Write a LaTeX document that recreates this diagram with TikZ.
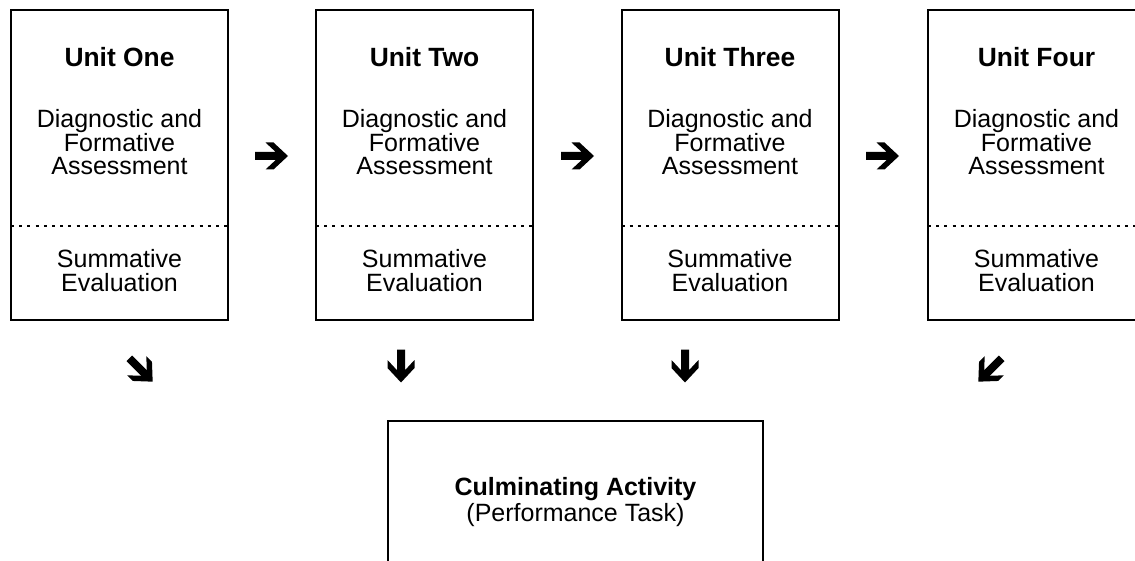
\documentclass[tikz,border=0pt]{standalone}
\usepackage{fontspec}
\setmainfont{Liberation Sans}
\tikzset{
  unitbox/.style={draw, line width=1pt, minimum width=108.5pt, minimum height=155pt, inner sep=0pt},
  unittext/.style={anchor=base, align=center, inner sep=0pt, font=\fontsize{12.5}{11.75}\selectfont},
  unittitle/.style={unittext, font=\fontsize{13.2}{11.75}\selectfont\bfseries},
  divider/.style={line width=1pt, dash pattern=on 1.5pt off 2.6pt},
  fatarrow/.pic={
    \fill (-16.5,4) -- (4.2,4) -- (-6,13.5) -- (2,13.5) -- (16.5,0)
      -- (2,-13.5) -- (-6,-13.5) -- (4.2,-4) -- (-16.5,-4) -- cycle;
  }
}
\begin{document}
\begin{tikzpicture}[x=0.5pt, y=-0.5pt]
\useasboundingbox (0,0) rectangle (1135,561);
\clip (0,0) rectangle (1135,561);

% the four units
\foreach \cx/\nm/\ttl in {119.5/one/Unit One, 424.5/two/Unit Two, 730/three/Unit Three, 1036.5/four/Unit Four} {
  \node[unitbox] (\nm) at (\cx,165) {};
  \draw[divider] (\cx-108.5,226) -- (\cx+108.5,226);
  \node[unittitle] (\nm-title) at (\cx,66.5) {\ttl};
  \node[unittext] (\nm-diag) at (\cx,175) {Diagnostic and\\Formative\\Assessment};
  \node[unittext] (\nm-summ) at (\cx,291.5) {Summative\\Evaluation};
}

% arrows between units
\pic at (271.5,156) {fatarrow};
\pic at (577.5,156) {fatarrow};
\pic at (882.5,156) {fatarrow};

% arrows down to the activity
\pic[rotate=-45] at (141,370) {fatarrow};
\pic[rotate=-90] at (401,366) {fatarrow};
\pic[rotate=-90] at (685,366) {fatarrow};
\pic[rotate=-135] at (990,370) {fatarrow};

% culminating activity
\node[draw, line width=1pt, minimum width=187.5pt, minimum height=100pt, inner sep=0pt] (culm) at (575.5,521) {};
\node[unittext, font=\fontsize{12.5}{10.5}\selectfont] (culm-text) at (575.5,521) {\textbf{Culminating Activity}\\(Performance Task)};

\end{tikzpicture}
\end{document}
